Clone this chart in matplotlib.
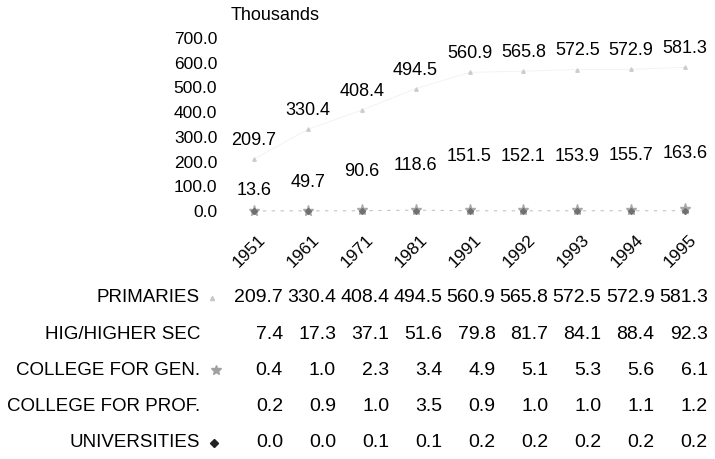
import numpy as np
import matplotlib.pyplot as plt
from matplotlib.ticker import FormatStrFormatter
from matplotlib.transforms import ScaledTranslation

plt.rcParams['font.family'] = ['Liberation Sans', 'DejaVu Sans']

years = ['1951', '1961', '1971', '1981', '1991', '1992', '1993', '1994', '1995']
primaries = [209.7, 330.4, 408.4, 494.5, 560.9, 565.8, 572.5, 572.9, 581.3]
hig_higher_sec = [7.4, 17.3, 37.1, 51.6, 79.8, 81.7, 84.1, 88.4, 92.3]
college_gen = [0.4, 1.0, 2.3, 3.4, 4.9, 5.1, 5.3, 5.6, 6.1]
college_prof = [0.2, 0.9, 1.0, 3.5, 0.9, 1.0, 1.0, 1.1, 1.2]
universities = [0.0, 0.0, 0.1, 0.1, 0.2, 0.2, 0.2, 0.2, 0.2]
# second row of value labels printed on the chart
other_labels = [13.6, 49.7, 90.6, 118.6, 151.5, 152.1, 153.9, 155.7, 163.6]
row_names = ['PRIMARIES', 'HIG/HIGHER SEC', 'COLLEGE FOR GEN.',
             'COLLEGE FOR PROF.', 'UNIVERSITIES']

W, H = 715, 459
fig = plt.figure(figsize=(W / 100, H / 100), dpi=100)

# chart part
ax = fig.add_axes([227 / W, 1 - 211 / H, 485 / W, 173 / H])
x = np.arange(len(years))

ax.plot(x, primaries, color='#f1f1f1', lw=0.6, marker='^', ms=2.5,
        mfc='#cccccc', mec='#cccccc', clip_on=False)
ax.plot(x, college_prof, color='#c4c4c4', lw=0.8, ls=(0, (3, 5)), clip_on=False)
ax.plot(x, college_gen, ls='none', marker='*', ms=8, color='#a8a8a8', clip_on=False)
ax.plot(x, universities, ls='none', marker='D', ms=3, color='#707070', clip_on=False)

for xi, v in zip(x, primaries):
    ax.annotate(f'{v:.1f}', (xi, v), xytext=(0, 13.5), textcoords='offset points',
                ha='center', va='center', fontsize=13, annotation_clip=False)
for xi, v in zip(x, other_labels):
    ax.annotate(f'{v:.1f}', (xi, v), xytext=(0, 12), textcoords='offset points',
                ha='center', va='center', fontsize=13, annotation_clip=False)

ax.set_xlim(-0.5, len(years) - 0.5)
ax.set_ylim(0, 700)
ax.set_yticks(range(0, 800, 100))
ax.yaxis.set_major_formatter(FormatStrFormatter('%.1f'))
ax.set_xticks(x, years, rotation=45, ha='right', rotation_mode='anchor')
ax.tick_params(axis='y', length=0, pad=7, labelsize=12.5)
ax.tick_params(axis='x', length=0, pad=15, labelsize=12.5)
for lbl in ax.get_xticklabels():
    lbl.set_transform(lbl.get_transform() + ScaledTranslation(0.04, 0, fig.dpi_scale_trans))
for s in ax.spines.values():
    s.set_visible(False)

fig.text(231 / W, 1 - 15 / H, 'Thousands', ha='left', va='center', fontsize=13)

# data table below
tab = fig.add_axes([0, 0, 1, 1], zorder=-1)
tab.set_xlim(0, W)
tab.set_ylim(H, 0)
tab.axis('off')

rows = [primaries, hig_higher_sec, college_gen, college_prof, universities]
for r, (name, vals) in enumerate(zip(row_names, rows)):
    y = 298 + 36.2 * r
    tab.text(200, y, name, ha='right', va='center', fontsize=13.5)
    for i, v in enumerate(vals):
        tab.text(283 + 53.1 * i, y, f'{v:.1f}', ha='right', va='center', fontsize=14)

tab.plot(212, 298, marker='^', ms=3, color='#c8c8c8')
tab.plot(216, 370.4, marker='*', ms=7, color='#a0a0a0')
tab.plot(214, 442.8, marker='D', ms=4, color='#222222')

fig.savefig('out.png', dpi=100)
